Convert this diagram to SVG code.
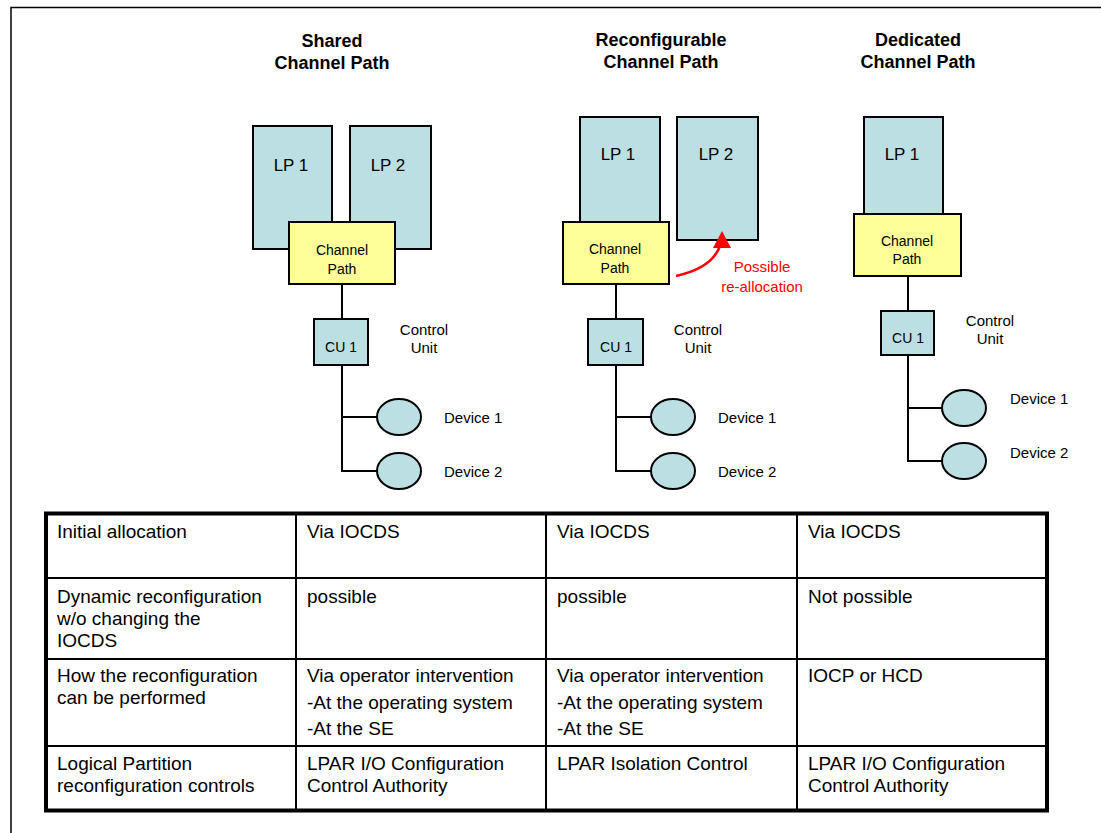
<svg xmlns="http://www.w3.org/2000/svg" width="1101" height="833" viewBox="0 0 1101 833">
<style>
.lp{fill:#BBDFE2;stroke:#000;stroke-width:2}
.cp{fill:#FFFF99;stroke:#000;stroke-width:2}
.dev{fill:#BBDFE2;stroke:#000;stroke-width:2}
.ln{fill:none;stroke:#000;stroke-width:2}
.t{font-family:"Liberation Sans",Arial,sans-serif;fill:#000}
.title{font-size:18px;font-weight:bold;text-anchor:middle}
.lpt{font-size:17px;text-anchor:middle}
.cpt{font-size:14px;text-anchor:middle}
.sm{font-size:15px}
.smc{font-size:15px;text-anchor:middle}
.red{font-family:"Liberation Sans",Arial,sans-serif;font-size:15px;fill:#FF0000;text-anchor:middle}
.tb{font-size:19px}
.grid{fill:none;stroke:#000;stroke-width:2}
</style>
<rect width="1101" height="833" fill="#fff"/>
<path d="M11,833 V7.5 H1101" fill="none" stroke="#000" stroke-width="1.5"/>

<g id="shared">
<text class="t title" x="332" y="47">Shared</text>
<text class="t title" x="332" y="69">Channel Path</text>
<rect class="lp" x="253" y="126" width="79" height="123"/>
<text class="t lpt" x="291" y="171">LP 1</text>
<rect class="lp" x="350" y="126" width="81" height="123"/>
<text class="t lpt" x="388" y="171">LP 2</text>
<rect class="cp" x="289" y="222" width="106" height="62"/>
<text class="t cpt" x="342" y="255">Channel</text>
<text class="t cpt" x="342" y="274">Path</text>
<rect class="lp" x="314" y="319" width="54" height="46"/>
<text class="t cpt" x="341" y="352">CU 1</text>
<text class="t smc" x="424" y="335">Control</text>
<text class="t smc" x="424" y="353">Unit</text>
<ellipse class="dev" cx="399" cy="417" rx="22" ry="18"/>
<text class="t sm" x="444" y="423">Device 1</text>
<ellipse class="dev" cx="399" cy="471" rx="22" ry="18"/>
<text class="t sm" x="444" y="477">Device 2</text>
</g>

<g id="reconfigurable">
<text class="t title" x="661" y="46">Reconfigurable</text>
<text class="t title" x="661" y="68">Channel Path</text>
<rect class="lp" x="580" y="117" width="80" height="110"/>
<text class="t lpt" x="618" y="160">LP 1</text>
<rect class="lp" x="677" y="117" width="81" height="123"/>
<text class="t lpt" x="716" y="160">LP 2</text>
<rect class="cp" x="563" y="222" width="106" height="62"/>
<text class="t cpt" x="615" y="254">Channel</text>
<text class="t cpt" x="615" y="273">Path</text>
<rect class="lp" x="588" y="319" width="55" height="46"/>
<text class="t cpt" x="616" y="352">CU 1</text>
<text class="t smc" x="698" y="335">Control</text>
<text class="t smc" x="698" y="353">Unit</text>
<ellipse class="dev" cx="673" cy="417" rx="22" ry="18"/>
<text class="t sm" x="718" y="423">Device 1</text>
<ellipse class="dev" cx="673" cy="471" rx="22" ry="18"/>
<text class="t sm" x="718" y="477">Device 2</text>
<text class="red" x="762" y="272">Possible</text>
<text class="red" x="762" y="292">re-allocation</text>
</g>

<g id="dedicated">
<text class="t title" x="918" y="46">Dedicated</text>
<text class="t title" x="918" y="68">Channel Path</text>
<rect class="lp" x="864" y="117" width="79" height="97"/>
<text class="t lpt" x="902" y="160">LP 1</text>
<rect class="cp" x="854" y="214" width="107" height="62"/>
<text class="t cpt" x="907" y="246">Channel</text>
<text class="t cpt" x="907" y="264">Path</text>
<rect class="lp" x="881" y="311" width="53" height="44"/>
<text class="t cpt" x="908" y="343">CU 1</text>
<text class="t smc" x="990" y="326">Control</text>
<text class="t smc" x="990" y="344">Unit</text>
<ellipse class="dev" cx="964" cy="408" rx="22" ry="18"/>
<text class="t sm" x="1010" y="404">Device 1</text>
<ellipse class="dev" cx="964" cy="461" rx="22" ry="18"/>
<text class="t sm" x="1010" y="458">Device 2</text>
</g>

<g id="connectors">
<path class="ln" d="M342,284 V319 M342,365 V471 H377 M342,417 H377"/>
<path class="ln" d="M616,284 V319 M616,365 V471 H651 M616,417 H651"/>
<path class="ln" d="M908,276 V311 M908,355 V461 H942 M908,408 H942"/>
<path d="M676,276 Q712,268 720,246" fill="none" stroke="#FF0000" stroke-width="2.5"/>
<polygon points="713,248 722,231 731,248" fill="#FF0000"/>
</g>

<g id="table">
<rect x="46" y="513.5" width="1001" height="297" fill="#fff" stroke="#000" stroke-width="4"/>
<path class="grid" d="M48,578 H1045 M48,659 H1045 M48,746 H1045 M296,515 V809 M546,515 V809 M797,515 V809"/>
<text class="t tb" x="57" y="538">Initial allocation</text>
<text class="t tb" x="307" y="538">Via IOCDS</text>
<text class="t tb" x="557" y="538">Via IOCDS</text>
<text class="t tb" x="808" y="538">Via IOCDS</text>
<text class="t tb" x="57" y="603">Dynamic reconfiguration</text>
<text class="t tb" x="57" y="625">w/o changing the</text>
<text class="t tb" x="57" y="647">IOCDS</text>
<text class="t tb" x="307" y="603">possible</text>
<text class="t tb" x="557" y="603">possible</text>
<text class="t tb" x="808" y="603">Not possible</text>
<text class="t tb" x="57" y="682">How the reconfiguration</text>
<text class="t tb" x="57" y="704">can be performed</text>
<text class="t tb" x="307" y="682">Via operator intervention</text>
<text class="t tb" x="307" y="709">-At the operating system</text>
<text class="t tb" x="307" y="735">-At the SE</text>
<text class="t tb" x="557" y="682">Via operator intervention</text>
<text class="t tb" x="557" y="709">-At the operating system</text>
<text class="t tb" x="557" y="735">-At the SE</text>
<text class="t tb" x="808" y="682">IOCP or HCD</text>
<text class="t tb" x="57" y="770">Logical Partition</text>
<text class="t tb" x="57" y="792">reconfiguration controls</text>
<text class="t tb" x="307" y="770">LPAR I/O Configuration</text>
<text class="t tb" x="307" y="792">Control Authority</text>
<text class="t tb" x="557" y="770">LPAR Isolation Control</text>
<text class="t tb" x="808" y="770">LPAR I/O Configuration</text>
<text class="t tb" x="808" y="792">Control Authority</text>
</g>
</svg>
